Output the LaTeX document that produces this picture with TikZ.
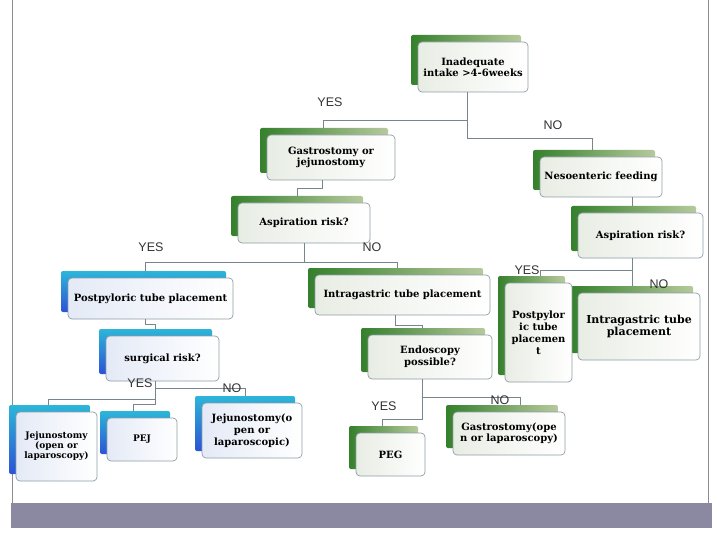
\documentclass[tikz,border=0pt]{standalone}
\usepackage{fontspec}
\setmainfont{DejaVu Serif}
\newfontfamily\labfont{Liberation Sans}
\definecolor{gdark}{HTML}{35802C}
\definecolor{glight}{HTML}{B6C99C}
\definecolor{bcyan}{HTML}{2CB6D8}
\definecolor{bblue}{HTML}{2C52D6}
\definecolor{edge}{HTML}{8E9EA6}
\definecolor{conn}{HTML}{76868C}
\definecolor{band}{HTML}{8B88A2}
\definecolor{gfill}{HTML}{E8EDE4}
\definecolor{bfill}{HTML}{E4EAF6}
\newcommand\flowbox[8]{%
 \pgfmathsetmacro\fcx{(#2+#4)/2}%
 \pgfmathsetmacro\fcy{(#3+#5)/2}%
 \pgfmathsetmacro\fw{#4-#2}%
 \pgfmathsetmacro\fh{#5-#3}%
 \node[#6shadow, minimum width=\fw pt, minimum height=\fh pt] (#1-s) at (\fcx-7,\fcy-7) {};
 \node[#6front, minimum width=\fw pt, minimum height=\fh pt, #7] (#1) at (\fcx,\fcy) {#8};
}
\begin{document}
\begin{tikzpicture}[x=1pt,y=-1pt,
  gshadow/.style={rectangle, rounded corners=2pt, draw=none, left color=gdark, right color=glight, inner sep=0pt},
  bshadow/.style={rectangle, rounded corners=2pt, draw=none, top color=bcyan, bottom color=bblue, inner sep=0pt},
  front/.style={rectangle, rounded corners=4pt, draw=edge, line width=0.7pt, align=center, inner sep=1pt,
     font=\bfseries\fontsize{10}{11}\selectfont, text=black},
  gfront/.style={front, left color=gfill, right color=white},
  bfront/.style={front, left color=bfill, right color=white},
  lab/.style={font=\labfont\fontsize{12.5}{13}\selectfont, text=black!80, inner sep=0pt},
  cn/.style={draw=conn, line width=0.7pt}
]
\useasboundingbox (0,0) rectangle (720,540);
\fill[white] (0,0) rectangle (720,540);
% slide frame
\draw[black!45, line width=0.6pt] (12,0) -- (12,503);
\draw[black!45, line width=0.6pt] (708,0) -- (708,503);
\fill[band] (11,503) rectangle (712,528);

% boxes
\flowbox{inad}{418}{42}{528}{92}{g}{}{Inadequate\\intake >4-6weeks}
\flowbox{gas}{267}{135}{395}{180}{g}{}{Gastrostomy or\\jejunostomy}
\flowbox{neso}{540}{157}{662}{197}{g}{}{Nesoenteric feeding}
\flowbox{asp1}{238}{203}{370}{243}{g}{}{Aspiration risk?}
\flowbox{asp2}{578}{213}{703}{258}{g}{}{Aspiration risk?}
\flowbox{post1}{68}{278}{233}{319}{b}{}{Postpyloric tube placement}
\flowbox{intra1}{315}{275}{490}{315}{g}{}{Intragastric tube placement}
\flowbox{intra2}{578}{293}{700}{360}{g}{font=\bfseries\fontsize{11}{12}\selectfont}{Intragastric tube\\placement}
\flowbox{postr}{505}{283}{572}{382}{g}{font=\bfseries\fontsize{10}{12}\selectfont}{Postpylor\\ic tube\\placemen\\t}
\flowbox{surg}{106}{336}{219}{381}{b}{}{surgical risk?}
\flowbox{endo}{368}{335}{492}{379}{g}{font=\bfseries\fontsize{10}{12}\selectfont}{Endoscopy\\possible?}
\flowbox{jej1}{16}{412}{97}{481}{b}{font=\bfseries\fontsize{9}{10}\selectfont}{Jejunostomy\\(open or\\laparoscopy)}
\flowbox{pej}{107}{418}{177}{461}{b}{font=\bfseries\fontsize{9}{10}\selectfont}{PEJ}
\flowbox{jej2}{202}{403}{302}{458}{b}{font=\bfseries\fontsize{10}{12}\selectfont}{Jejunostomy(o\\pen or\\laparoscopic)}
\flowbox{peg}{356}{433}{425}{476}{g}{}{PEG}
\flowbox{gas2}{453}{412}{565}{455}{g}{}{Gastrostomy(ope\\n or laparoscopy)}

% bend points
\coordinate (j1) at (467,120);
\coordinate (g1) at (323,120);
\coordinate (j2) at (467,138);
\coordinate (n1) at (592,138);
\coordinate (a2) at (632,0);
\coordinate (g2) at (322,188);
\coordinate (g3) at (297,188);
\coordinate (s1) at (304,262);
\coordinate (s2) at (145,262);
\coordinate (s3) at (397,262);
\coordinate (r1) at (632,270);
\coordinate (r2) at (540,270);
\coordinate (p1) at (145,324);
\coordinate (p2) at (155,324);
\coordinate (u0) at (155,404);
\coordinate (u1) at (155,388);
\coordinate (u2) at (245,388);
\coordinate (u3) at (155,399);
\coordinate (u4) at (48,399);
\coordinate (u5) at (133,404);
\coordinate (e1) at (395,325);
\coordinate (e2) at (422,325);
\coordinate (e3) at (422,419);
\coordinate (e4) at (382,419);
\coordinate (e5) at (422,397);
\coordinate (e6) at (520,397);

% connectors
\draw[cn] (inad.south -| j1) -- (j2) -- (n1) -- (neso-s.north -| n1);
\draw[cn] (j1) -- (g1) -- (gas-s.north -| g1);
\draw[cn] (neso.south -| a2) -- (asp2-s.north -| a2);
\draw[cn] (gas.south -| g2) -- (g2) -- (g3) -- (asp1-s.north -| g3);
\draw[cn] (asp1.south -| s1) -- (s1);
\draw[cn] (post1-s.north -| s2) -- (s2) -- (s3) -- (intra1-s.north -| s3);
\draw[cn] (asp2.south -| r1) -- (intra2-s.north -| r1);
\draw[cn] (r1) -- (r2) -- (postr-s.north -| r2);
\draw[cn] (post1.south -| p1) -- (p1) -- (p2) -- (surg-s.north -| p2);
\draw[cn] (surg.south -| u0) -- (u0) -- (u5) -- (pej-s.north -| u5);
\draw[cn] (u1) -- (u2) -- (jej2-s.north -| u2);
\draw[cn] (u3) -- (u4) -- (jej1-s.north -| u4);
\draw[cn] (intra1.south -| e1) -- (e1) -- (e2) -- (endo-s.north -| e2);
\draw[cn] (endo.south -| e3) -- (e3) -- (e4) -- (peg-s.north -| e4);
\draw[cn] (e5) -- (e6) -- (gas2-s.north -| e6);

% labels
\node[lab] (l1) at (330,102) {YES};
\node[lab] (l2) at (553,125) {NO};
\node[lab] (l3) at (151,247) {YES};
\node[lab] (l4) at (372,247) {NO};
\node[lab] (l5) at (527,270) {YES};
\node[lab] (l6) at (659,284) {NO};
\node[lab] (l7) at (140,383) {YES};
\node[lab] (l8) at (232,388) {NO};
\node[lab] (l9) at (384,406) {YES};
\node[lab] (l10) at (500,400) {NO};
\end{tikzpicture}
\end{document}
